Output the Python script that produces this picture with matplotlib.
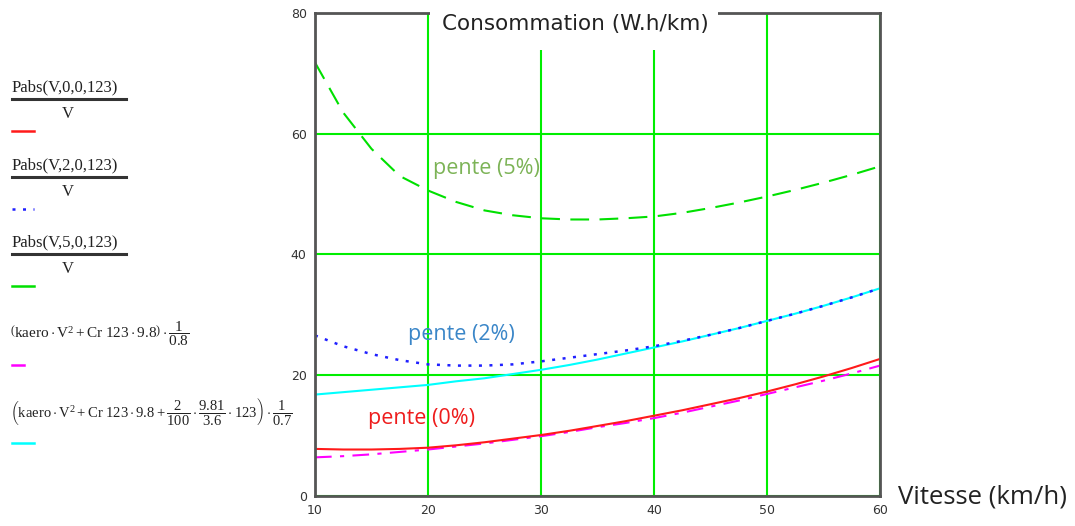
import numpy as np
import matplotlib
matplotlib.use("Agg")
import matplotlib.pyplot as plt
from matplotlib.lines import Line2D
from matplotlib.patches import Rectangle

# vitesse (km/h)
V = [10, 12.5, 15, 17.5, 20, 22.5, 25, 27.5, 30, 32.5, 35, 37.5, 40,
     42.5, 45, 47.5, 50, 52.5, 55, 57.5, 60]

# consommation (W.h/km)
pente0 = [7.8, 7.7, 7.7, 7.8, 8.0, 8.4, 8.9, 9.5, 10.1, 10.8, 11.6, 12.4, 13.3,
          14.2, 15.2, 16.2, 17.3, 18.5, 19.8, 21.2, 22.7]
pente2 = [26.6, 24.8, 23.5, 22.5, 21.8, 21.6, 21.6, 21.8, 22.3, 22.9, 23.5, 24.1, 24.8,
          25.7, 26.7, 27.8, 29.0, 30.2, 31.5, 32.9, 34.4]
pente5 = [71.8, 63.5, 57.5, 53.0, 50.6, 48.7, 47.3, 46.5, 46.0, 45.8, 45.8, 46.0, 46.3,
          46.9, 47.7, 48.6, 49.6, 50.7, 51.9, 53.2, 54.6]
approx0 = [6.4, 6.6, 6.9, 7.3, 7.7, 8.2, 8.7, 9.3, 9.9, 10.6, 11.4, 12.1, 12.9,
           13.8, 14.8, 15.8, 16.9, 18.0, 19.1, 20.3, 21.6]
approx2 = [16.8, 17.2, 17.6, 18.0, 18.4, 19.0, 19.5, 20.2, 20.9, 21.7, 22.6, 23.6, 24.6,
           25.6, 26.7, 27.8, 29.0, 30.2, 31.5, 32.9, 34.4]

xticks = [10, 20, 30, 40, 50, 60]
yticks = [0, 20, 40, 60, 80]

W, H = 1075, 526

def fx(x):
    return x / W

def fy(y):
    return 1 - y / H

plt.rcParams['mathtext.fontset'] = 'custom'
plt.rcParams['mathtext.rm'] = 'Liberation Serif'
plt.rcParams['mathtext.it'] = 'Liberation Serif:italic'

fig = plt.figure(figsize=(W / 100, H / 100), dpi=100)
ax = fig.add_axes([fx(315), fy(496), fx(880) - fx(315), fy(13) - fy(496)])

ax.plot(V, approx0, color='#ff00ff', lw=1.5, ls=(0, (8, 4, 2, 4)))
ax.plot(V, pente0, color='#ff1a1a', lw=1.5)
ax.plot(V, approx2, color='#00ffff', lw=1.5)
ax.plot(V, pente2, color='#2020ff', lw=1.8, ls=(0, (1.2, 3)))
ax.plot(V, pente5, color='#00e000', lw=1.5, ls=(0, (9, 5)))

ax.set_xlim(10, 60)
ax.set_ylim(0, 80)
ax.set_xticks(xticks)
ax.set_yticks(yticks)
ax.grid(True, color='#00ee00', lw=1.5)
ax.set_axisbelow(True)
ax.tick_params(length=0, labelsize=9, colors='#333333', pad=6)
for lab in ax.get_xticklabels() + ax.get_yticklabels():
    lab.set_family(['Liberation Sans Narrow', 'DejaVu Sans'])
for s in ax.spines.values():
    s.set_color('#555555')
    s.set_linewidth(2)

ax.text(20.4, 54.2, 'pente (5%)', color='#7cb356', fontsize=15.5, family='Open Sans', va='center')
ax.text(18.2, 26.8, 'pente (2%)', color='#3a86c8', fontsize=15.5, family='Open Sans', va='center')
ax.text(14.7, 12.8, 'pente (0%)', color='#ee1c1c', fontsize=15.5, family='Open Sans', va='center')

# titre au-dessus, masque le cadre
fig.add_artist(Rectangle((fx(430), fy(50)), fx(718) - fx(430), fy(0) - fy(50),
                         transform=fig.transFigure, fc='white', ec='none', zorder=5))
fig.text(fx(575), fy(24), 'Consommation (W.h/km)', ha='center', va='center',
         fontsize=15.5, family='DejaVu Sans', color='#222222', zorder=6)
fig.text(fx(898), fy(497), 'Vitesse (km/h)', ha='left', va='center',
         fontsize=18.5, family='Open Sans', color='#222222')

# legende facon Mathcad
serif = 'Liberation Serif'
entries = [('Pabs(V,0,0,123)', 87, '#ff1a1a', '-'),
           ('Pabs(V,2,0,123)', 165, '#2020ff', (0, (1.2, 3))),
           ('Pabs(V,5,0,123)', 242, '#00e000', '-')]
for num, y, col, ls in entries:
    fig.text(fx(12), fy(y), num, ha='left', va='center', fontsize=12, family=serif, color='#222222')
    fig.add_artist(Line2D([fx(12), fx(126)], [fy(y + 12), fy(y + 12)], color='#333333', lw=2.2))
    fig.text(fx(68), fy(y + 27), 'V', ha='center', va='center', fontsize=12, family=serif, color='#222222')
    fig.add_artist(Line2D([fx(12), fx(34)], [fy(y + 44), fy(y + 44)], color=col, lw=1.8, ls=ls))

fig.text(fx(10), fy(334), r'$\left(\mathrm{kaero}\cdot\mathrm{V}^2+\mathrm{Cr}\ 123\cdot 9.8\right)\cdot\dfrac{1}{0.8}$',
         ha='left', va='center', fontsize=11, color='#222222')
fig.add_artist(Line2D([fx(12), fx(24)], [fy(365), fy(365)], color='#ff00ff', lw=1.8))
fig.text(fx(10), fy(412), r'$\left(\mathrm{kaero}\cdot\mathrm{V}^2+\mathrm{Cr}\ 123\cdot 9.8+\dfrac{2}{100}\cdot\dfrac{9.81}{3.6}\cdot 123\right)\cdot\dfrac{1}{0.7}$',
         ha='left', va='center', fontsize=10.5, color='#222222')
fig.add_artist(Line2D([fx(12), fx(34)], [fy(443), fy(443)], color='#00ffff', lw=1.8))

fig.savefig('out.png', dpi=100)
